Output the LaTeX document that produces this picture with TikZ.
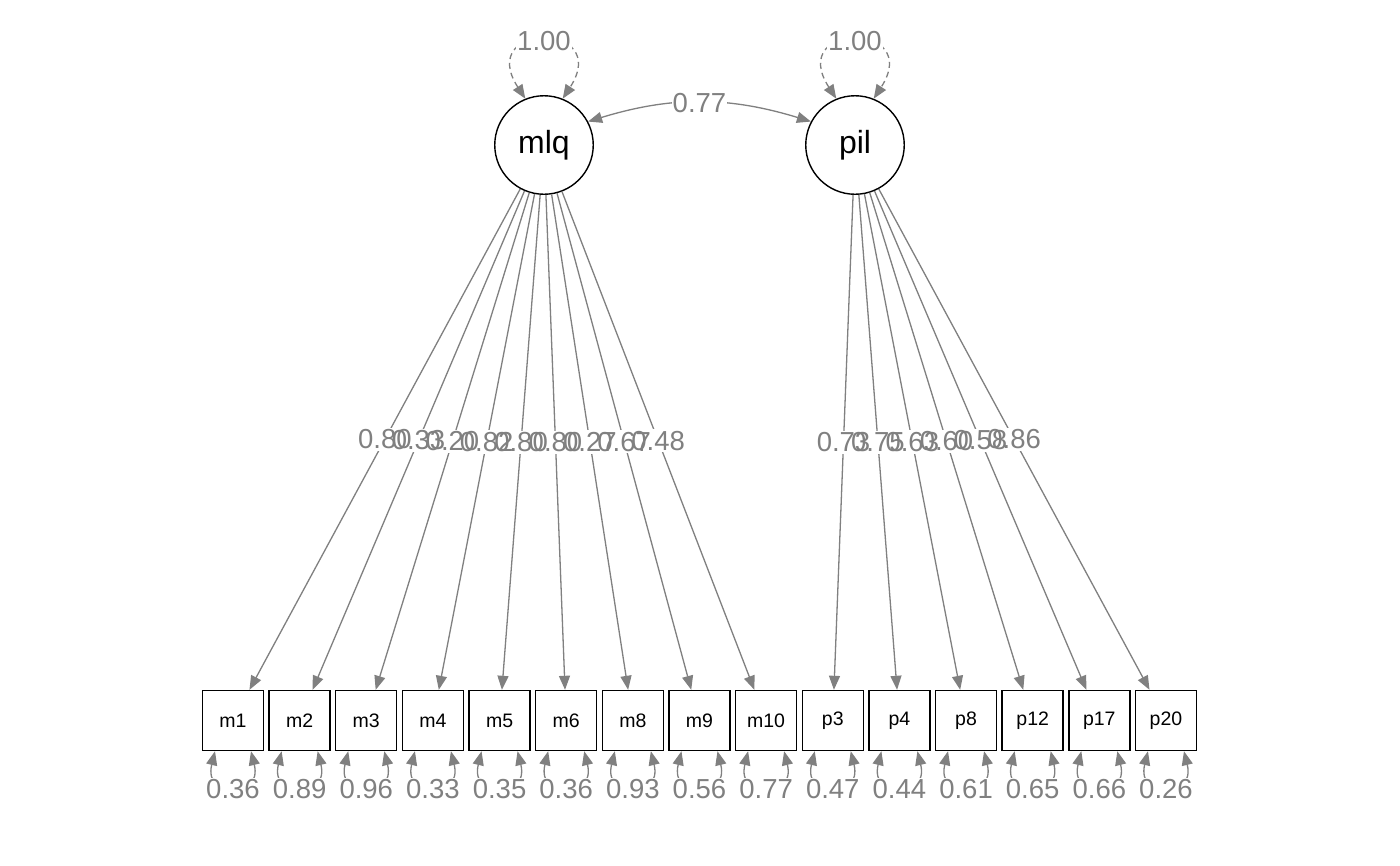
\documentclass[tikz,border=0pt]{standalone}
\usepackage{fontspec}
\setmainfont{Liberation Sans}
\usetikzlibrary{arrows.meta}
\definecolor{edgegray}{HTML}{808080}
\begin{document}
\begin{tikzpicture}[x=1pt,y=-1pt,
  latent/.style={circle,draw=black,line width=1.4pt,minimum size=98.5pt,inner sep=0pt,font=\fontsize{32}{34}\selectfont},
  manifest/.style={rectangle,draw=black,line width=1.4pt,minimum width=61pt,minimum height=60pt,inner sep=0pt,font=\fontsize{19.5}{21}\selectfont},
  edge/.style={draw=edgegray,line width=1.3pt,-{Triangle[length=14pt,width=11pt]}},
  cov/.style={draw=edgegray,line width=1.3pt,{Triangle[length=14pt,width=11pt]}-{Triangle[length=14pt,width=11pt]}},
  varloop/.style={draw=edgegray,line width=1.3pt,dash pattern=on 6pt off 4pt,{Triangle[length=14pt,width=11pt]}-{Triangle[length=14pt,width=11pt]}},
  resid/.style={draw=edgegray,line width=1.3pt,{Triangle[length=14pt,width=11pt]}-{Triangle[length=14pt,width=11pt]}},
  lblfont/.style={font=\fontsize{27.5}{30}\selectfont},
  lblfill/.style={lblfont,fill=white,text=edgegray,inner xsep=1pt,inner ysep=2pt,text depth=0pt},
  lblbg/.style={lblfont,fill=white,text=white,inner xsep=1pt,inner ysep=2pt,text depth=0pt},
  lbl/.style={lblfont,text=edgegray,inner xsep=1pt,inner ysep=2pt,text depth=0pt}
]
\useasboundingbox[fill=white] (0,0) rectangle (1400,865);

% latent variables
\node[latent] (mlq) at (544,145) {mlq};
\node[latent] (pil) at (855,145) {pil};

% manifest variables
\foreach \n [count=\i from 0] in {m1,m2,m3,m4,m5,m6,m8,m9,m10,p3,p4,p8,p12,p17,p20}
  \node[manifest] (\n) at ({233+66.64*\i},720.5) {\n};

% loadings
\foreach \n in {m1,m2,m3,m4,m5,m6,m8,m9,m10}
  \draw[edge] (mlq) -- (\n);
\foreach \n in {p3,p4,p8,p12,p17,p20}
  \draw[edge] (pil) -- (\n);

\foreach \n/\v in {m1/0.80,m2/0.33,m3/0.20,m4/0.82,m5/0.80,m6/0.80,m8/0.27,m9/0.67,m10/0.48}
  \path (mlq) -- (\n) node[midway,lblbg] {\v};
\foreach \n/\v in {p3/0.73,p4/0.75,p8/0.63,p12/0.60,p17/0.58,p20/0.86}
  \path (pil) -- (\n) node[midway,lblbg] {\v};
\foreach \n/\v in {m1/0.80,m2/0.33,m3/0.20,m4/0.82,m5/0.80,m6/0.80,m8/0.27,m9/0.67,m10/0.48}
  \path (mlq) -- (\n) node[midway,lbl] {\v};
\foreach \n/\v in {p3/0.73,p4/0.75,p8/0.63,p12/0.60,p17/0.58,p20/0.86}
  \path (pil) -- (\n) node[midway,lbl] {\v};

% latent variances
\draw[varloop] (mlq.112) .. controls (475,21) and (613,21) .. node[lblfill,solid] {1.00} (mlq.68);
\draw[varloop] (pil.112) .. controls (786,21) and (924,21) .. node[lblfill,solid] {1.00} (pil.68);

% covariance
\draw[cov] (mlq.28) to[bend left=17] node[lblfill] {0.77} (pil.152);

% residual variances
\foreach \n/\v in {m1/0.36,m2/0.89,m3/0.96,m4/0.33,m5/0.35,m6/0.36,m8/0.93,m9/0.56,m10/0.77,p3/0.47,p4/0.44,p8/0.61,p12/0.65,p17/0.66,p20/0.26}{
  \draw[resid] ([xshift=-18pt]\n.south) .. controls +(-12,49) and +(12,49) .. ([xshift=18pt]\n.south);
  \node[lblfill] (r\n) at ([yshift=-38pt]\n.south) {\v};
}
\end{tikzpicture}
\end{document}
